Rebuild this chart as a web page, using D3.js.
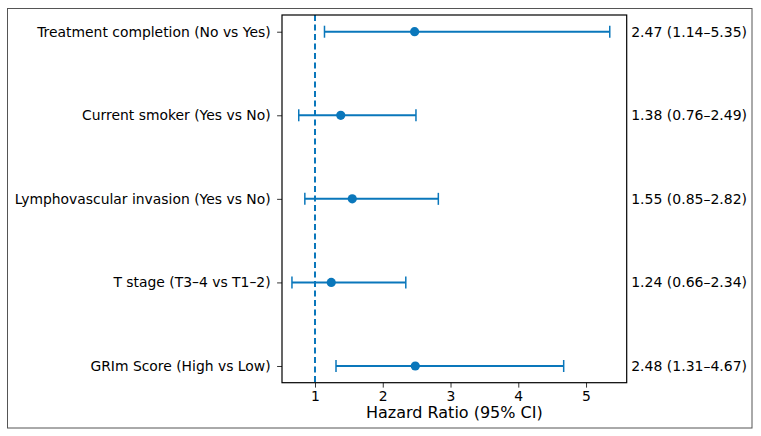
<!DOCTYPE html>
<html><head><meta charset="utf-8">
<script src="https://cdn.jsdelivr.net/npm/d3@7"></script>
<style>body{margin:0;background:#fff}svg{display:block}text{font-family:"DejaVu Sans",sans-serif;fill:#000}</style>
</head><body>
<svg id="c" width="761" height="436"></svg>
<script>
const categories = ["Treatment completion (No vs Yes)","Current smoker (Yes vs No)","Lymphovascular invasion (Yes vs No)","T stage (T3–4 vs T1–2)","GRIm Score (High vs Low)"];
const hr = [2.47, 1.38, 1.55, 1.24, 2.48];
const lower = [1.14, 0.76, 0.85, 0.66, 1.31];
const upper = [5.35, 2.49, 2.82, 2.34, 4.67];
const xTicks = [1, 2, 3, 4, 5];
const refLine = 1;

const svg = d3.select("#c");
const color = "#0a77bb";
const L = 282, R = 626.7, T = 15, B = 382.7;
const x = d3.scaleLinear().domain([0.513, 5.6]).range([L, R]);
const y = d3.scaleLinear().domain([-0.2, 4.2]).range([T, B]);

// outer figure border
svg.append("rect").attr("x",7.5).attr("y",8.5).attr("width",744.5).attr("height",419.5)
  .attr("fill","none").attr("stroke","#555").attr("stroke-width",1);

// reference line
svg.append("line").attr("x1",x(refLine)).attr("x2",x(refLine)).attr("y1",T).attr("y2",B)
  .attr("stroke",color).attr("stroke-width",2).attr("stroke-dasharray","6,3.5");

const g = svg.append("g");
categories.forEach((c,i)=>{
  const yy = y(i);
  g.append("line").attr("x1",x(lower[i])).attr("x2",x(upper[i])).attr("y1",yy).attr("y2",yy)
    .attr("stroke",color).attr("stroke-width",2);
  [lower[i],upper[i]].forEach(v=>{
    g.append("line").attr("x1",x(v)).attr("x2",x(v)).attr("y1",yy-6).attr("y2",yy+6)
      .attr("stroke",color).attr("stroke-width",1.5);
  });
  g.append("circle").attr("cx",x(hr[i])).attr("cy",yy).attr("r",4.6).attr("fill",color);
  svg.append("text").attr("x",R+4.5).attr("y",yy).attr("dy","0.35em").attr("font-size",14)
    .text(`${hr[i].toFixed(2)} (${lower[i].toFixed(2)}–${upper[i].toFixed(2)})`);
});

// axes
const xAxis = d3.axisBottom(x).tickValues(xTicks).tickSize(4.9).tickPadding(3.5).tickFormat(d3.format("d"));
const ax = svg.append("g").attr("transform",`translate(0,${B})`).call(xAxis);
ax.select(".domain").remove();
ax.selectAll("text").attr("font-size",13.9).attr("font-family","DejaVu Sans").attr("fill","#000");
ax.selectAll("line").attr("stroke","#000").attr("stroke-width",0.8);

const yAxis = d3.axisLeft(y).tickValues(d3.range(categories.length)).tickFormat(i=>categories[i]).tickSize(4.9).tickPadding(6.5);
const ay = svg.append("g").attr("transform",`translate(${L},0)`).call(yAxis);
ay.select(".domain").remove();
ay.selectAll("text").attr("font-size",13.9).attr("font-family","DejaVu Sans").attr("fill","#000");
ay.selectAll("line").attr("stroke","#000").attr("stroke-width",0.8);

svg.append("rect").attr("x",L).attr("y",T).attr("width",R-L).attr("height",B-T)
  .attr("fill","none").attr("stroke","#000").attr("stroke-width",1.2);

svg.append("text").attr("x",(L+R)/2).attr("y",418).attr("text-anchor","middle").attr("font-size",16)
  .text("Hazard Ratio (95% CI)");
</script>
</body></html>
